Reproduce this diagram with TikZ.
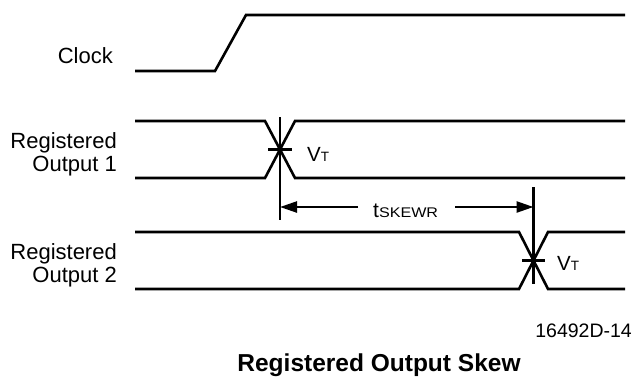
\documentclass[tikz,border=0pt]{standalone}
\usepackage{fontspec}
\setmainfont{Liberation Sans}
\usetikzlibrary{arrows.meta}
\tikzset{
  wave/.style={line width=2.6pt, line join=miter},
  thin/.style={line width=2.4pt},
  lbl/.style={inner sep=0pt, font=\fontsize{22}{24}\selectfont},
  vt/.style={inner sep=0pt, font=\fontsize{20.5}{21}\selectfont},
  dim/.style={line width=2.4pt, -{Triangle[length=17pt,width=11pt]}},
}
\newcommand{\mysub}[1]{{\fontsize{13.5}{14}\selectfont #1}}
\begin{document}
\begin{tikzpicture}[x=1pt,y=-1pt]
\useasboundingbox (0,0) rectangle (639,376);
% coordinates
\coordinate (c0) at (135,71); \coordinate (c1) at (215,71); \coordinate (c2) at (246,15); \coordinate (c3) at (625,15);
\coordinate (o1a) at (135,121); \coordinate (o1b) at (265,121); \coordinate (o1c) at (295,178); \coordinate (o1d) at (625,178);
\coordinate (o1e) at (135,178); \coordinate (o1f) at (265,178); \coordinate (o1g) at (295,121); \coordinate (o1h) at (625,121);
\coordinate (o2a) at (135,232); \coordinate (o2b) at (519,232); \coordinate (o2c) at (548,289); \coordinate (o2d) at (625,289);
\coordinate (o2e) at (135,289); \coordinate (o2f) at (519,289); \coordinate (o2g) at (548,232); \coordinate (o2h) at (625,232);
\coordinate (v1t) at (280,117); \coordinate (v1b) at (280,220);
\coordinate (k1l) at (268,149.5); \coordinate (k1r) at (292,149.5);
\coordinate (v2t) at (533.5,187); \coordinate (v2b) at (533.5,284);
\coordinate (k2l) at (522,260.5); \coordinate (k2r) at (545,260.5);
\coordinate (a1) at (280,207); \coordinate (a2) at (533.5,207);
\coordinate (l1) at (358,207); \coordinate (r1) at (455,207);
% waveforms
\draw[wave] (c0) -- (c1) -- (c2) -- (c3);
\draw[wave] (o1a) -- (o1b) -- (o1c) -- (o1d);
\draw[wave] (o1e) -- (o1f) -- (o1g) -- (o1h);
\draw[wave] (o2a) -- (o2b) -- (o2c) -- (o2d);
\draw[wave] (o2e) -- (o2f) -- (o2g) -- (o2h);
% markers
\draw[thin] (v1t) -- (v1b);
\draw[thin] (k1l) -- (k1r);
\draw[thin] (v2t) -- (v2b);
\draw[thin] (k2l) -- (k2r);
% dimension arrows
\draw[dim] (l1) -- (a1);
\draw[dim] (r1) -- (a2);
% labels
\node[lbl, anchor=base east] (clk) at (113,63) {Clock};
\node[lbl, anchor=base east] (r1a) at (117,148) {Registered};
\node[lbl, anchor=base east] (r1b) at (117,171) {Output 1};
\node[lbl, anchor=base east] (r2a) at (117,259) {Registered};
\node[lbl, anchor=base east] (r2b) at (117,282) {Output 2};
\node[vt, anchor=base west] (vt1) at (307,161) {V\mysub{T}};
\node[vt, anchor=base west] (vt2) at (557,270) {V\mysub{T}};
\node[inner sep=0pt, anchor=base west, font=\fontsize{21}{22}\selectfont] (tsk) at (373,217) {t\scalebox{1.15}[1]{\fontsize{14}{14}\selectfont SKEWR}};
\node[inner sep=0pt, anchor=base east, font=\fontsize{19.5}{20}\selectfont] (fig) at (632,337) {16492D-14};
\node[inner sep=0pt, anchor=base, font=\fontsize{24.5}{26}\selectfont\bfseries] (title) at (379,371) {Registered Output Skew};
\end{tikzpicture}
\end{document}
